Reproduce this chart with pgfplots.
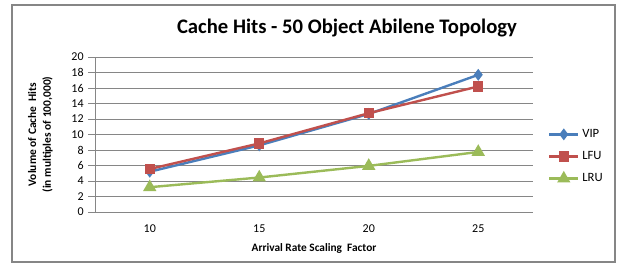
\documentclass[border=0pt]{standalone}
\usepackage{pgfplots}
\pgfplotsset{compat=1.18}
\usepackage{fontspec}
\setmainfont{Carlito}
\definecolor{vip}{RGB}{74,126,187}
\definecolor{lfu}{RGB}{192,80,77}
\definecolor{lru}{RGB}{155,187,89}
\definecolor{gridc}{RGB}{134,134,134}
\begin{document}
\begin{tikzpicture}[x=1pt,y=1pt]
\path[use as bounding box] (-71.25pt,-45pt) rectangle (394.5pt,159pt);
\begin{axis}[
  at={(0,0)}, anchor=south west,
  scale only axis,
  width=328.5pt, height=116.25pt,
  xmin=7.5, xmax=27.5, ymin=0, ymax=20,
  xtick={10,15,20,25}, ytick={0,2,...,20},
  /pgf/number format/assume math mode=true,
  tick label style={font=\fontsize{9}{10}\selectfont, color=black},
  ymajorgrids, grid style={gridc, line width=0.6pt},
  axis line style={gridc, line width=0.6pt},
  axis x line*=bottom, axis y line*=left,
  x axis line style={-}, y axis line style={-},
  xtick style={draw=none},
  ytick style={gridc, line width=0.6pt},
  major tick length=5pt,
  tick align=outside,
  xticklabel style={yshift=-1pt},
  xlabel={\textbf{Arrival Rate Scaling\ \ Factor}},
  xlabel style={font=\fontsize{8.5}{10}\selectfont, at={([yshift=-27pt]axis description cs:0.5,0)}, anchor=center},
  ylabel={\textbf{Volume of Cache\ \ Hits}\\\textbf{(in multiples of 100,000)}},
  ylabel style={font=\fontsize{8.6}{11}\selectfont, align=center, at={([xshift=-41pt]axis description cs:0,0.5)}, anchor=center, rotate=0},
  legend style={draw=none, fill=none, at={([xshift=11pt,yshift=-16.5pt]axis description cs:1,0.5)}, anchor=west,
    font=\fontsize{9.5}{10}\selectfont, row sep=5pt, inner sep=0pt, legend cell align=left},
  legend image code/.code={\draw[#1] (0pt,0pt) -- (22pt,0pt); \draw[#1, only marks] plot coordinates {(11pt,0pt)};},
  clip=false,
]
\addplot[color=vip, line width=1.8pt, mark=diamond*, mark size=3pt] coordinates {(10,5.2) (15,8.6) (20,12.65) (25,17.7)};
\addlegendentry{VIP}
\addplot[color=lfu, line width=1.8pt, mark=square*, mark size=3pt] coordinates {(10,5.55) (15,8.85) (20,12.75) (25,16.2)};
\addlegendentry{LFU}
\addplot[color=lru, line width=1.8pt, mark=triangle*, mark size=4pt] coordinates {(10,3.2) (15,4.45) (20,5.95) (25,7.75)};
\addlegendentry{LRU}
\end{axis}
\draw[color=gridc, line width=0.8pt] (-62.25pt,-37.5pt) rectangle (390pt,155.25pt);
\node[font=\bfseries\fontsize{15.5}{17}\selectfont, anchor=center] at (189pt,138pt) {Cache Hits - 50 Object Abilene Topology};
\end{tikzpicture}
\end{document}
